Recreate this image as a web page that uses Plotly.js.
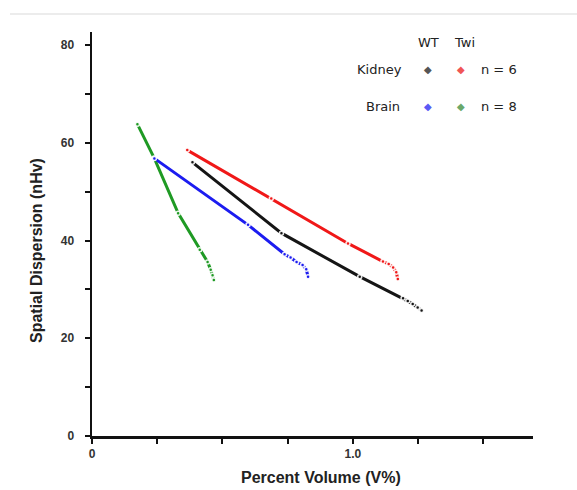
<!DOCTYPE html>
<html>
<head>
<meta charset="utf-8">
<script src="https://cdn.plot.ly/plotly-3.0.1.min.js"></script>
<style>html,body{margin:0;padding:0;background:#fff;}#chart{width:577px;height:490px;}</style>
</head>
<body>
<div id="chart"></div>
<script>
// Kidney WT (black)
var kidneyWT_x = [0.385, 0.726, 1.026, 1.192, 1.210, 1.229, 1.248, 1.263];
var kidneyWT_y = [56.0, 41.5, 32.6, 28.2, 27.6, 27.0, 26.3, 25.7];
// Kidney Twi (red)
var kidneyTwi_x = [0.365, 0.687, 0.981, 1.115, 1.137, 1.154, 1.166, 1.172];
var kidneyTwi_y = [58.5, 48.6, 39.4, 35.7, 35.2, 34.5, 33.5, 32.1];
// Brain WT (blue)
var brainWT_x = [0.239, 0.598, 0.738, 0.761, 0.784, 0.807, 0.821, 0.828];
var brainWT_y = [56.8, 43.2, 37.2, 36.5, 35.6, 35.0, 34.1, 32.6];
// Brain Twi (green)
var brainTwi_x = [0.174, 0.238, 0.330, 0.413, 0.443, 0.455, 0.462, 0.467];
var brainTwi_y = [63.8, 56.9, 45.6, 38.1, 35.6, 34.0, 32.9, 31.9];

var xTickVals = [0, 0.25, 0.5, 0.75, 1.0, 1.25, 1.5];
var xTickText = ['0', '', '', '', '1.0', '', ''];
var yTickVals = [0, 10, 20, 30, 40, 50, 60, 70, 80];
var yTickText = ['0', '', '20', '', '40', '', '60', '', '80'];

var legendRows = ['Kidney', 'Brain'];
var legendCols = ['WT', 'Twi'];
var legendN = ['n = 6', 'n = 8'];

function series(x, y, color) {
  return {
    x: x, y: y, type: 'scatter', mode: 'lines+markers',
    line: {color: color, width: 3},
    marker: {color: color, size: 4, line: {color: 'rgba(255,255,255,0.9)', width: 1.5}},
    hoverinfo: 'skip', showlegend: false
  };
}

var traces = [
  series(brainTwi_x, brainTwi_y, '#1f9a24'),
  series(brainWT_x, brainWT_y, '#1c1cf0'),
  series(kidneyWT_x, kidneyWT_y, '#151515'),
  series(kidneyTwi_x, kidneyTwi_y, '#f01818')
];

var legFont = {family: 'DejaVu Sans, sans-serif', size: 13, color: '#222'};
function px2x(px) { return (px - 92) / 441; }
function px2y(py) { return (436 - py) / 404; }
function ann(text, px, py, xa, font, extra) {
  var a = {text: text, xref: 'paper', yref: 'paper', x: px2x(px), y: px2y(py),
           xanchor: xa, yanchor: 'middle', showarrow: false, font: font};
  if (extra) { for (var k in extra) a[k] = extra[k]; }
  return a;
}
var titleFont = {family: 'Liberation Sans, Arial, sans-serif', size: 16, color: '#222', weight: 'bold'};
var tickFont = {family: 'Liberation Sans, Arial, sans-serif', size: 12, color: '#333', weight: 'bold'};

var annotations = [
  ann('Percent Volume (V%)', 321, 477, 'center', titleFont),
  ann('Spatial Dispersion (nHv)', 36, 251, 'center', titleFont, {textangle: -90}),
  ann(legendCols[0], 428, 42, 'center', legFont),
  ann(legendCols[1], 464, 42, 'center', legFont),
  ann(legendRows[0], 404, 70, 'right', legFont),
  ann(legendRows[1], 402, 106, 'right', legFont),
  ann(legendN[0], 479, 70, 'left', legFont),
  ann(legendN[1], 479, 106, 'left', legFont),
  ann('◆', 428, 70, 'center', {family: 'DejaVu Sans', size: 10, color: '#555'}),
  ann('◆', 461, 70, 'center', {family: 'DejaVu Sans', size: 10, color: '#f05555'}),
  ann('◆', 428, 106, 'center', {family: 'DejaVu Sans', size: 10, color: '#5a5af5'}),
  ann('◆', 461, 106, 'center', {family: 'DejaVu Sans', size: 10, color: '#6aa86a'})
];

var layout = {
  width: 577, height: 490,
  margin: {l: 92, r: 44, t: 32, b: 54},
  paper_bgcolor: '#fff', plot_bgcolor: '#fff',
  showlegend: false,
  xaxis: {
    range: [0, 1.69], showgrid: false, zeroline: false,
    showline: true, linecolor: '#111', linewidth: 2.5,
    ticks: 'outside', ticklen: 5, tickwidth: 2, tickcolor: '#111',
    tickmode: 'array', tickvals: xTickVals, ticktext: xTickText,
    tickfont: tickFont,
    ticklabelstandoff: 0
  },
  yaxis: {
    range: [0, 82.66], showgrid: false, zeroline: false,
    showline: true, linecolor: '#111', linewidth: 2.5,
    ticks: 'outside', ticklen: 5, tickwidth: 2, tickcolor: '#111',
    tickmode: 'array', tickvals: yTickVals, ticktext: yTickText,
    tickfont: tickFont,
    ticklabelstandoff: 8
  },
  shapes: [
    {type: 'line', xref: 'paper', yref: 'paper', x0: px2x(10), x1: px2x(577), y0: px2y(14), y1: px2y(14),
     line: {color: '#e6e6e6', width: 1.5}}
  ],
  annotations: annotations
};

Plotly.newPlot('chart', traces, layout, {displayModeBar: false, staticPlot: true});
</script>
</body>
</html>
